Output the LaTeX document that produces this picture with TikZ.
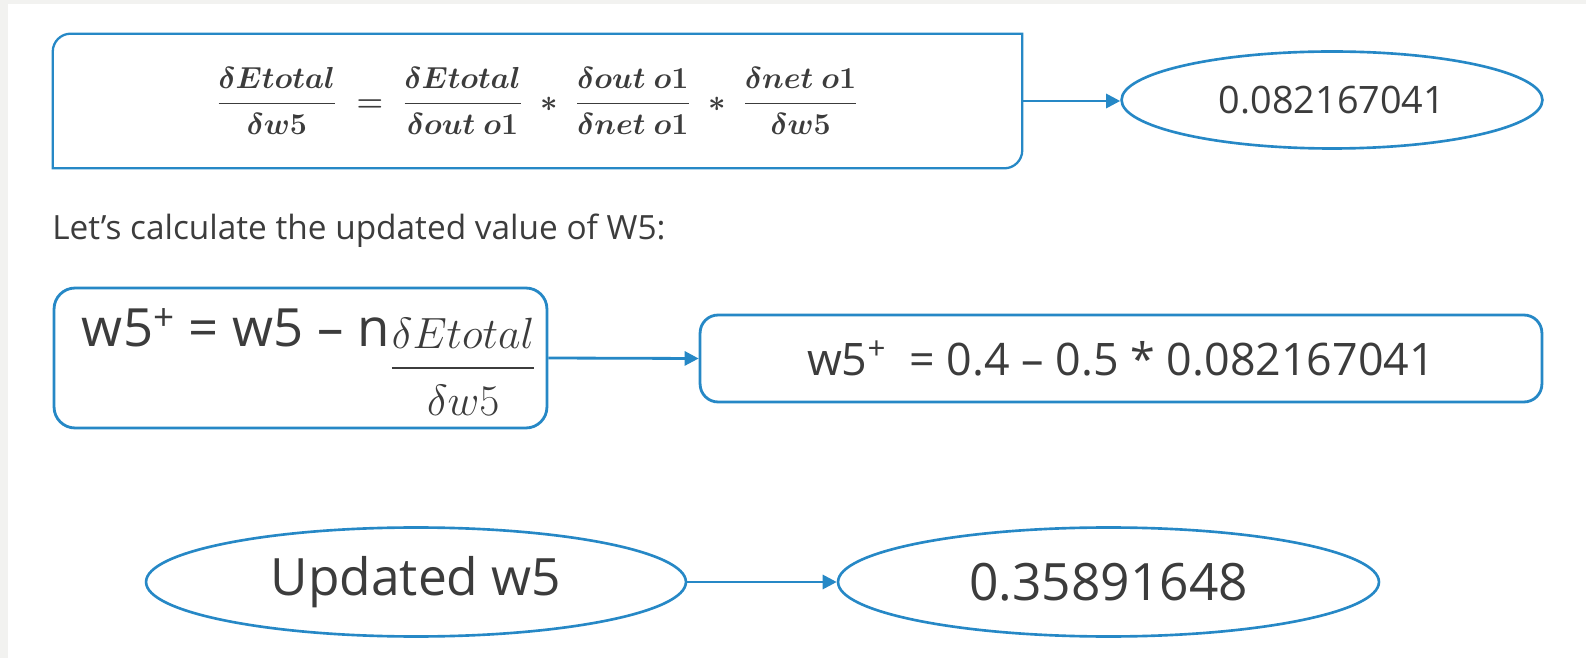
\documentclass[tikz,border=0pt]{standalone}
\usepackage{amsmath}
\usepackage[no-math]{fontspec}
\setmainfont{Open Sans}
\usepackage{xcolor}
\usetikzlibrary{arrows.meta,shapes.geometric}
\definecolor{lineblue}{RGB}{38,136,198}
\definecolor{txtgray}{RGB}{60,60,60}
\definecolor{framegray}{RGB}{242,242,240}
\newcommand{\opgap}{\mkern5mu}

\begin{document}
\begin{tikzpicture}[x=0.02cm,y=-0.02cm,
		box/.style={draw=lineblue,line width=1.6pt,rounded corners=0.36cm,text=txtgray,inner sep=0pt},
		oval/.style={ellipse,draw=lineblue,line width=1.5pt,text=txtgray,inner sep=0pt},
		conn/.style={draw=lineblue,line width=1.6pt,-{Triangle[length=0.28cm,width=0.28cm]}}]
		\fill[framegray] (0,0) rectangle (1586,658);
		\fill[white] (8,4) rectangle (1586,658);
		\useasboundingbox (0,0) rectangle (1586,658);
		% chain rule
		\node[text=txtgray,minimum width=19.38cm,minimum height=2.68cm,inner sep=0pt] (dE) at (537.5,101)
			{\fontsize{18}{22}\selectfont{\boldmath$\dfrac{\delta Etotal}{\delta w5} \opgap=\opgap \dfrac{\delta Etotal}{\delta out\ o1} \opgap\ast\opgap \dfrac{\delta out\ o1}{\delta net\ o1} \opgap\ast\opgap \dfrac{\delta net\ o1}{\delta w5}$}};
		\draw[lineblue,line width=1.3pt] (dE.south west) -- ([yshift=-0.36cm]dE.north west) arc[start angle=180,end angle=90,radius=0.36cm]
			-- (dE.north east) -- ([yshift=0.36cm]dE.south east) arc[start angle=0,end angle=-90,radius=0.36cm] -- cycle;
		\node[oval,minimum width=8.42cm,minimum height=1.94cm,font=\fontsize{21.5}{26}\selectfont] (grad) at (1332,100) {0.082167041};
		\draw[conn] (dE.east) -- (dE.east -| grad.west);
		% update rule
		\node[anchor=base west,inner sep=0pt,text=txtgray,font=\fontsize{19}{23}\selectfont] (say) at (52,240) {Let’s calculate the updated value of W5:};
		\node[box,minimum width=9.86cm,minimum height=2.8cm,rounded corners=0.42cm,text height=22pt,text depth=35.6pt] (rule) at (300.5,358)
			{\hspace*{10pt}\fontsize{30}{35}\selectfont w5\textsuperscript{+} = w5 – n\fontsize{26.5}{31}\selectfont\raisebox{-18.5pt}{$\dfrac{\delta Etotal}{\vrule height 24pt width 0pt\delta w5}$}};
		\node[box,minimum width=16.84cm,minimum height=1.74cm,font=\fontsize{25.5}{30}\selectfont] (calc) at (1121,358.5)
			{w5\textsuperscript{+}\ \ = 0.4 – 0.5 * 0.082167041};
		\draw[conn] (rule.east) -- (calc.west);
		% result
		\node[oval,minimum width=10.8cm,minimum height=2.18cm,font=\fontsize{29.3}{34}\selectfont] (upd) at (416,582) {Updated w5};
		\node[oval,minimum width=10.82cm,minimum height=2.18cm,font=\fontsize{29.3}{34}\selectfont] (newval) at (1108.5,582) {0.35891648};
		\draw[conn] (upd.east) -- (newval.west);
\end{tikzpicture}
\end{document}
